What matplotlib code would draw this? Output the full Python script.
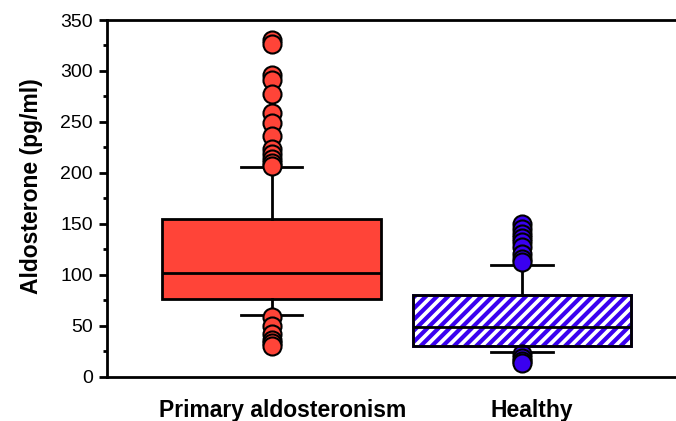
import matplotlib
matplotlib.use("Agg")
import matplotlib.pyplot as plt
from matplotlib.patches import PathPatch
from matplotlib.ticker import MultipleLocator

groups = ["Primary aldosteronism", "Healthy"]
whisker_low = [60, 24]
q1 = [76, 29.5]
median = [102, 49]
q3 = [155, 80]
whisker_high = [206, 109]
outliers_pa = [330, 326, 296, 291, 277, 259, 249, 236, 223, 218, 214, 210, 207,
               58, 50, 42, 36, 33, 30]
outliers_healthy = [150, 145, 140, 136, 132, 127, 120, 115, 112,
                    22, 18, 15, 13]

plt.rcParams['font.family'] = ['Liberation Sans', 'DejaVu Sans']
plt.rcParams['hatch.linewidth'] = 3

red = '#ff4438'
blue = '#3a00f0'

fig = plt.figure(figsize=(6.76, 4.21), dpi=100)
ax = fig.add_axes([107 / 676, 1 - 376.5 / 421, 1 - 107 / 676, (376.5 - 20) / 421])

stats = []
fliers = [outliers_pa, outliers_healthy]
for i in range(len(groups)):
    stats.append(dict(whislo=whisker_low[i], q1=q1[i], med=median[i],
                      q3=q3[i], whishi=whisker_high[i], fliers=fliers[i]))

bp = ax.bxp(stats, positions=[1, 2], widths=0.874, capwidths=0.244,
            patch_artist=True, showfliers=True,
            boxprops=dict(linewidth=2, edgecolor='black'),
            medianprops=dict(color='black', linewidth=2),
            whiskerprops=dict(color='black', linewidth=2),
            capprops=dict(color='black', linewidth=2))

bp['boxes'][0].set_facecolor(red)
# hatch takes the edge colour, so hatch in blue and outline again in black
hb = bp['boxes'][1]
hb.set_facecolor('white')
hb.set_edgecolor(blue)
hb.set_hatch('///')
ax.add_patch(PathPatch(hb.get_path(), transform=hb.get_transform(),
                       fill=False, edgecolor='black', linewidth=2, zorder=hb.get_zorder() + 0.1))
for m in bp['medians']:
    m.set_zorder(3)

flier_colors = [red, blue]
for fl, c in zip(bp['fliers'], flier_colors):
    fl.set_marker('o')
    fl.set_markersize(13)
    fl.set_markerfacecolor(c)
    fl.set_markeredgecolor('black')
    fl.set_markeredgewidth(1.5)

ax.set_xlim(1 - (271.5 - 107) / 250.5, 1 + (676 - 271.5) / 250.5)
ax.set_ylim(0, 350)
ax.yaxis.set_major_locator(MultipleLocator(50))
ax.yaxis.set_minor_locator(MultipleLocator(25))
ax.tick_params(axis='y', which='major', direction='out', length=6, width=2,
               labelsize=14, pad=4)
ax.tick_params(axis='y', which='minor', direction='out', length=3, width=2)

ax.set_xticks([1.045, 2.04])
ax.set_xticklabels(groups, fontsize=16.5, fontweight='bold')
ax.tick_params(axis='x', length=0, pad=16)

ax.spines['right'].set_visible(False)
for s in ['left', 'top', 'bottom']:
    ax.spines[s].set_linewidth(2)

ax.set_ylabel("Aldosterone (pg/ml)", fontsize=16.5, fontweight='bold')
ax.yaxis.set_label_coords(-0.1125, 0.533)

fig.savefig("out.png", dpi=100)
